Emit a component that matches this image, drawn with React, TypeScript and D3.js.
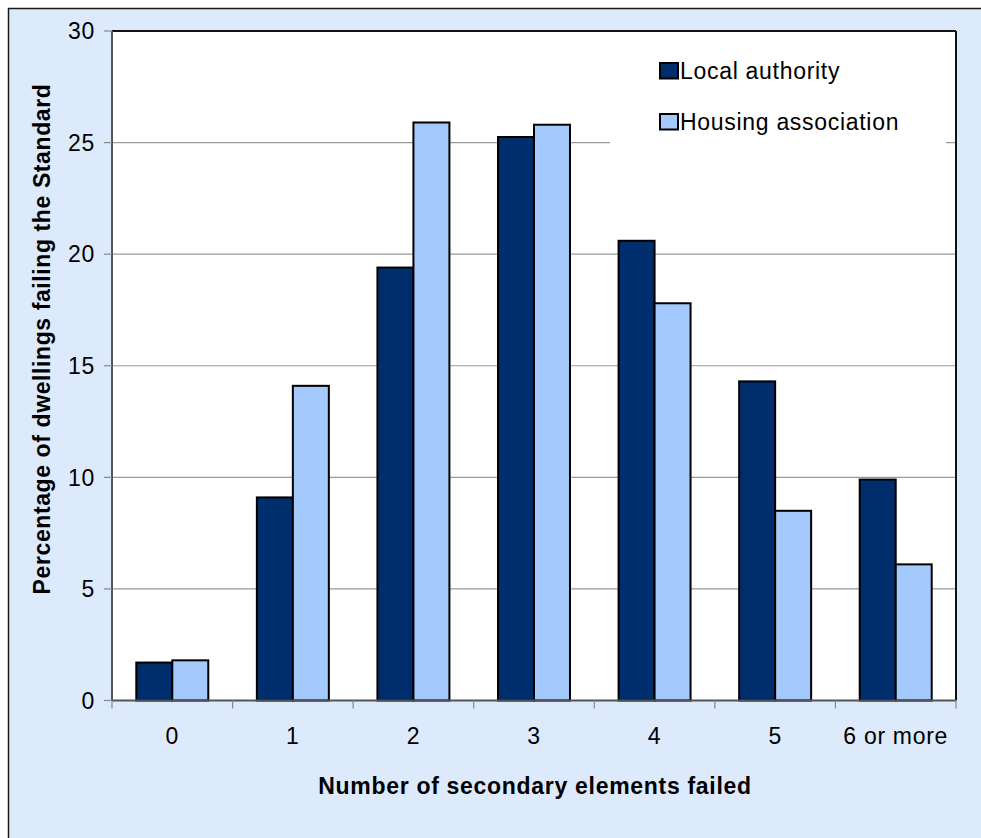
import React from "react";
import * as d3 from "d3";

const categories = ["0", "1", "2", "3", "4", "5", "6 or more"];
const localAuthority = [1.7, 9.1, 19.4, 25.25, 20.6, 14.3, 9.9];
const housingAssociation = [1.8, 14.1, 25.9, 25.8, 17.8, 8.5, 6.1];
const seriesNames = ["Local authority", "Housing association"];
const yTicks = [0, 5, 10, 15, 20, 25, 30];

const W = 981;
const H = 838;
const plot = { left: 112, right: 956, top: 31, bottom: 700.5 };
const colors = ["#002d6b", "#a4c9fd"];
const bg = "#dceafc";
const FONT = "'Liberation Sans', Arial, sans-serif";
const FS = 23;
const LS = 0.7;

export default function App() {
  const x0 = d3.scaleBand<string>().domain(categories).range([plot.left, plot.right]).padding(0);
  const y = d3.scaleLinear().domain([0, 30]).range([plot.bottom, plot.top]);
  const barW = x0.bandwidth() * 0.2985;
  const x1 = d3.scaleBand<number>().domain([0, 1]).range([0, barW * 2]).padding(0);
  const series = [localAuthority, housingAssociation];
  const boundaries = d3.range(categories.length + 1).map((i) => plot.left + i * x0.bandwidth());

  return (
    <svg width={W} height={H} style={{ position: "absolute", left: 0, top: 0 }} fontFamily={FONT}>
      <rect x={8.5} y={8.5} width={W + 20} height={H + 20} fill={bg} stroke="#1a1a1a" strokeWidth={1.5} />
      <rect x={plot.left} y={plot.top} width={plot.right - plot.left} height={plot.bottom - plot.top} fill="#fff" />
      {yTicks.filter((t) => t > 0 && t < 30).map((t) => (
        <line key={t} x1={plot.left} x2={plot.right} y1={y(t)} y2={y(t)} stroke="#9a9a9a" strokeWidth={1.2} />
      ))}
      {/* legend background */}
      <rect x={610} y={45} width={336} height={107} fill="#fff" />
      {/* bars */}
      {categories.map((c, i) => {
        const gx = (x0(c) as number) + x0.bandwidth() / 2 - barW;
        return series.map((s, j) => (
          <rect
            key={c + j}
            x={gx + (x1(j) as number)}
            y={y(s[i])}
            width={x1.bandwidth()}
            height={y(0) - y(s[i])}
            fill={colors[j]}
            stroke="#000"
            strokeWidth={2}
          />
        ));
      })}
      {/* plot border top/right */}
      <line x1={plot.left} x2={plot.right} y1={plot.top} y2={plot.top} stroke="#111" strokeWidth={2} />
      <line x1={plot.right} x2={plot.right} y1={plot.top} y2={plot.bottom} stroke="#111" strokeWidth={2} />
      {/* axes */}
      <line x1={plot.left} x2={plot.left} y1={plot.top} y2={plot.bottom} stroke="#555" strokeWidth={2} />
      <line x1={plot.left} x2={plot.right} y1={plot.bottom} y2={plot.bottom} stroke="#555" strokeWidth={2} />
      {yTicks.map((t) => (
        <g key={t}>
          <line x1={plot.left - 8} x2={plot.left} y1={y(t)} y2={y(t)} stroke="#888" strokeWidth={1.2} />
          <text x={95} y={y(t)} dy="0.36em" textAnchor="end" fontSize={FS} letterSpacing={LS}>
            {t}
          </text>
        </g>
      ))}
      {boundaries.map((bx, i) => (
        <line key={i} x1={bx} x2={bx} y1={plot.bottom} y2={plot.bottom + 8} stroke="#888" strokeWidth={1.2} />
      ))}
      {categories.map((c) => (
        <text key={c} x={(x0(c) as number) + x0.bandwidth() / 2} y={744} textAnchor="middle" fontSize={FS} letterSpacing={LS}>
          {c}
        </text>
      ))}
      <text x={535} y={794} textAnchor="middle" fontSize={FS} fontWeight="bold" letterSpacing={LS}>
        Number of secondary elements failed
      </text>
      <text
        transform={`translate(50,339) rotate(-90)`}
        textAnchor="middle"
        fontSize={FS}
        fontWeight="bold"
        letterSpacing={0.6}
      >
        Percentage of dwellings failing the Standard
      </text>
      {/* legend */}
      {seriesNames.map((n, j) => (
        <g key={n} transform={`translate(0,${79 + j * 51})`}>
          <rect x={660} y={-16} width={18} height={15.5} fill={colors[j]} stroke="#000" strokeWidth={2} />
          <text x={680} y={0} fontSize={FS} letterSpacing={LS}>
            {n}
          </text>
        </g>
      ))}
    </svg>
  );
}
